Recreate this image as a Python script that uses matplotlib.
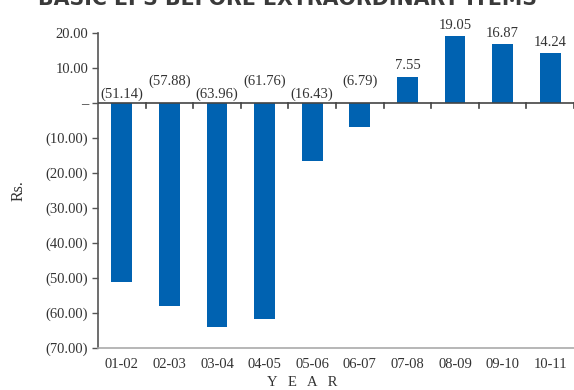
import matplotlib
matplotlib.use("Agg")
import matplotlib.pyplot as plt
from matplotlib.ticker import FuncFormatter

years = ["01-02", "02-03", "03-04", "04-05", "05-06", "06-07", "07-08", "08-09", "09-10", "10-11"]
eps = [-51.14, -57.88, -63.96, -61.76, -16.43, -6.79, 7.55, 19.05, 16.87, 14.24]

bar_color = "#0062b1"
text_color = "#333333"
plt.rcParams["font.family"] = ["Liberation Serif", "DejaVu Serif"]

fig = plt.figure(figsize=(5.74, 3.9), dpi=100)
ax = fig.add_axes([98 / 574, 1 - 348 / 390, 1 - 98 / 574, (348 - 33) / 390])

x = list(range(len(years)))
xc = [i + 0.5 for i in x]
ax.bar(xc, eps, width=0.44, color=bar_color, zorder=3)

# value labels: positives above the bar, negatives in brackets above the zero line
for i, v in enumerate(eps):
    if v >= 0:
        ax.annotate(f"{v:.2f}", (xc[i], v), xytext=(0, 3), textcoords="offset points",
                    ha="center", va="bottom", fontsize=10.5, color=text_color)
    else:
        off = 1.5 if i % 2 == 0 else 11
        ax.annotate(f"({-v:.2f})", (xc[i], 0), xytext=(0, off), textcoords="offset points",
                    ha="center", va="bottom", fontsize=10.5, color=text_color)

ax.set_xlim(0, len(years))
ax.set_ylim(-70, 20)
ax.set_yticks(range(-70, 21, 10))


def fmt(v, pos):
    if abs(v) < 1e-9:
        return "–"
    if v < 0:
        return f"({-v:.2f})"
    return f"{v:.2f}"


ax.yaxis.set_major_formatter(FuncFormatter(fmt))
ax.set_xticks(xc)
ax.set_xticklabels(years)
ax.tick_params(axis="x", length=0, pad=7, labelsize=10.5, labelcolor=text_color)
ax.tick_params(axis="y", length=4, width=1, color="#555555", pad=3, labelsize=10.5, labelcolor=text_color)

for s in ["top", "right"]:
    ax.spines[s].set_visible(False)
ax.spines["left"].set_color("#555555")
ax.spines["left"].set_linewidth(1.2)
ax.spines["bottom"].set_color("#aaaaaa")
ax.spines["bottom"].set_linewidth(1.2)

# zero line with category separators
ax.axhline(0, color="#444444", linewidth=1.2, zorder=4)
for b in range(1, len(years) + 1):
    ax.plot([b, b], [0, -1.4], color="#444444", linewidth=1.2, clip_on=False, zorder=4)

ax.set_ylabel("Rs.", fontsize=11.5, color=text_color, labelpad=14)
fig.text(302 / 574, 1 - 383 / 390, "Y   E   A   R", ha="center", va="center",
         fontsize=10.5, color=text_color)

fig.text(288 / 574, 1 - 5 / 390, "BASIC EPS BEFORE EXTRAORDINARY ITEMS", ha="center", va="baseline",
         fontsize=14.8, fontweight="bold", color="#3a3a3a", family="DejaVu Sans")

fig.savefig("out.png", dpi=100)
